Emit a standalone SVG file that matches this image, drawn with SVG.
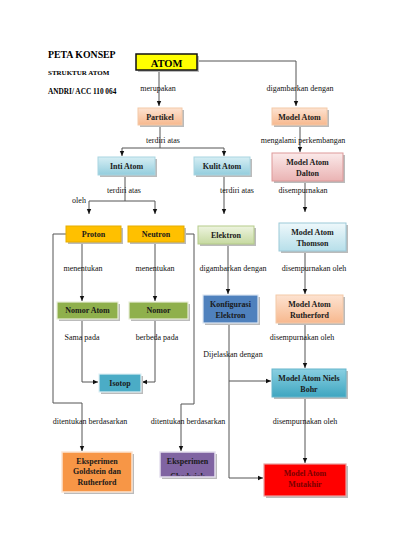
<svg xmlns="http://www.w3.org/2000/svg" width="400" height="550" viewBox="0 0 400 550">
<style>
.t{font-family:"Liberation Serif","Times New Roman",serif;font-weight:bold;font-size:8px;fill:#1a1a1a;text-anchor:middle}
.l{font-family:"Liberation Serif","Times New Roman",serif;font-size:8px;fill:#111;text-anchor:middle}
.h{font-family:"Liberation Serif","Times New Roman",serif;font-weight:bold;fill:#000}
.c{fill:none;stroke:#555;stroke-width:1}
.sh{fill:#bbb}
</style>
<defs>
<marker id="a" markerWidth="6" markerHeight="6" refX="5" refY="3" orient="auto" markerUnits="userSpaceOnUse">
<path d="M0,0.8 L5,3 L0,5.2 Z" fill="#111"/>
</marker>
<linearGradient id="peach" x1="0" y1="0" x2="0" y2="1"><stop offset="0" stop-color="#fde3d1"/><stop offset="1" stop-color="#f7b88e"/></linearGradient>
<linearGradient id="lblue" x1="0" y1="0" x2="0" y2="1"><stop offset="0" stop-color="#d6eef4"/><stop offset="1" stop-color="#93cddd"/></linearGradient>
<linearGradient id="pink" x1="0" y1="0" x2="0" y2="1"><stop offset="0" stop-color="#fbeaea"/><stop offset="1" stop-color="#eab3b3"/></linearGradient>
<linearGradient id="green" x1="0" y1="0" x2="0" y2="1"><stop offset="0" stop-color="#eef4e0"/><stop offset="1" stop-color="#c6d9a0"/></linearGradient>
<linearGradient id="pblue" x1="0" y1="0" x2="0" y2="1"><stop offset="0" stop-color="#eef8fb"/><stop offset="1" stop-color="#b7dfea"/></linearGradient>
<linearGradient id="teal" x1="0" y1="0" x2="0" y2="1"><stop offset="0" stop-color="#8ad0e2"/><stop offset="1" stop-color="#3fa6c0"/></linearGradient>
<clipPath id="chc"><rect x="160" y="452" width="55" height="23.5"/></clipPath>
</defs>

<g id="title">
<text class="h" x="48" y="58" font-size="9.8">PETA KONSEP</text>
<text class="h" x="48" y="75" font-size="7">STRUKTUR ATOM</text>
<text class="h" x="48" y="94" font-size="7.3">ANDRI/ ACC 110 064</text>
</g>

<g id="connectors">
<path class="c" d="M159,70 V106" marker-end="url(#a)"/>
<path class="c" d="M198,61 H296 V106" marker-end="url(#a)"/>
<path class="c" d="M160,125 V148"/>
<path class="c" d="M122,148 H224"/>
<path class="c" d="M122,148 V156" marker-end="url(#a)"/>
<path class="c" d="M224,148 V156" marker-end="url(#a)"/>
<path class="c" d="M300,125 V152" marker-end="url(#a)"/>
<path class="c" d="M125,175 V201"/>
<path class="c" d="M89,201 H155"/>
<path class="c" d="M89,201 V214" marker-end="url(#a)"/>
<path class="c" d="M155,201 V214" marker-end="url(#a)"/>
<path class="c" d="M224,175 V214" marker-end="url(#a)"/>
<path class="c" d="M305,181 V212" marker-end="url(#a)"/>
<path class="c" d="M66,234 H53 V403 H82 V451" marker-end="url(#a)"/>
<path class="c" d="M184,234 H194 V404 H181 V451" marker-end="url(#a)"/>
<path class="c" d="M82,242 V301" marker-end="url(#a)"/>
<path class="c" d="M155,242 V301" marker-end="url(#a)"/>
<path class="c" d="M82,319 V382 H98" marker-end="url(#a)"/>
<path class="c" d="M155,319 V382 H142" marker-end="url(#a)"/>
<path class="c" d="M228,244 V294" marker-end="url(#a)"/>
<path class="c" d="M229,323 V478 H263" marker-end="url(#a)"/>
<path class="c" d="M229,381 H271" marker-end="url(#a)"/>
<path class="c" d="M305,251 V294" marker-end="url(#a)"/>
<path class="c" d="M305,323 V368" marker-end="url(#a)"/>
<path class="c" d="M305,397 V463" marker-end="url(#a)"/>
</g>

<g id="labels">
<text class="l" x="158" y="91">merupakan</text>
<text class="l" x="300" y="91">digambarkan dengan</text>
<text class="l" x="163" y="143">terdiri atas</text>
<text class="l" x="303" y="143">mengalami perkembangan</text>
<text class="l" x="124" y="193">terdiri atas</text>
<text class="l" x="79" y="203">oleh</text>
<text class="l" x="237" y="193">terdiri atas</text>
<text class="l" x="303" y="193">disempurnakan</text>
<text class="l" x="83" y="271">menentukan</text>
<text class="l" x="155" y="271">menentukan</text>
<text class="l" x="233" y="271">digambarkan dengan</text>
<text class="l" x="314" y="271">disempurnakan oleh</text>
<text class="l" x="82" y="340">Sama pada</text>
<text class="l" x="157" y="340">berbeda pada</text>
<text class="l" x="302" y="340">disempurnakan oleh</text>
<text class="l" x="233" y="357">Dijelaskan dengan</text>
<text class="l" x="90" y="424">ditentukan berdasarkan</text>
<text class="l" x="188" y="424">ditentukan berdasarkan</text>
<text class="l" x="305" y="424">disempurnakan oleh</text>
</g>

<g id="atom">
<rect class="sh" x="138" y="56" width="61" height="16"/>
<rect x="136" y="54" width="61" height="16" fill="#ffff00" stroke="#111" stroke-width="1.5"/>
<text class="h" x="166.5" y="66.5" font-size="10.5" text-anchor="middle">ATOM</text>
</g>
<g id="partikel">
<rect class="sh" x="140" y="110" width="44" height="17"/>
<rect x="138" y="108" width="44" height="17" fill="url(#peach)" stroke="#f4c9a8"/>
<text class="t" x="160" y="119.5">Partikel</text>
</g>
<g id="model-atom">
<rect class="sh" x="274" y="110" width="55" height="17"/>
<rect x="272" y="108" width="55" height="17" fill="url(#peach)" stroke="#f4c9a8"/>
<text class="t" x="299.5" y="119.5">Model Atom</text>
</g>
<g id="inti-atom">
<rect class="sh" x="100" y="159" width="57" height="18"/>
<rect x="98" y="157" width="57" height="18" fill="url(#lblue)" stroke="#a9d5e1"/>
<text class="t" x="126.5" y="168.8">Inti Atom</text>
</g>
<g id="kulit-atom">
<rect class="sh" x="196" y="159" width="56" height="18"/>
<rect x="194" y="157" width="56" height="18" fill="url(#lblue)" stroke="#a9d5e1"/>
<text class="t" x="222" y="168.8">Kulit Atom</text>
</g>
<g id="dalton">
<rect class="sh" x="274" y="155" width="71" height="28"/>
<rect x="272" y="153" width="71" height="28" fill="url(#pink)" stroke="#d99"/>
<text class="t" x="307.5" y="164.5">Model Atom</text>
<text class="t" x="307.5" y="176">Dalton</text>
</g>
<g id="proton">
<rect class="sh" x="68" y="228" width="55" height="16"/>
<rect x="66" y="226" width="55" height="16" fill="#ffc000" stroke="#e6ad00"/>
<text class="t" x="93.5" y="236.8">Proton</text>
</g>
<g id="neutron">
<rect class="sh" x="130" y="228" width="56" height="16"/>
<rect x="128" y="226" width="56" height="16" fill="#ffc000" stroke="#e6ad00"/>
<text class="t" x="156" y="236.8">Neutron</text>
</g>
<g id="elektron">
<rect class="sh" x="200" y="228" width="56" height="18"/>
<rect x="198" y="226" width="56" height="18" fill="url(#green)" stroke="#b5cc8a"/>
<text class="t" x="226" y="237.8">Elektron</text>
</g>
<g id="thomson">
<rect class="sh" x="281" y="225" width="67" height="28"/>
<rect x="279" y="223" width="67" height="28" fill="url(#pblue)" stroke="#9cc9d8"/>
<text class="t" x="312.5" y="234.5">Model Atom</text>
<text class="t" x="312.5" y="246">Thomson</text>
</g>
<g id="nomor-atom">
<rect class="sh" x="59" y="304" width="61" height="17"/>
<rect x="57" y="302" width="61" height="17" fill="#8fb04c" stroke="#e8efd8" stroke-width="1.2"/>
<text class="t" x="87.5" y="313.3">Nomor Atom</text>
</g>
<g id="nomor">
<rect class="sh" x="131" y="304" width="59" height="17"/>
<rect x="129" y="302" width="59" height="17" fill="#8fb04c" stroke="#e8efd8" stroke-width="1.2"/>
<text class="t" x="158.5" y="313.3">Nomor</text>
</g>
<g id="konfigurasi">
<rect class="sh" x="205" y="297" width="55" height="28"/>
<rect x="203" y="295" width="55" height="28" fill="#4f81bd" stroke="#dde6f2" stroke-width="1.2"/>
<text class="t" x="230.5" y="306.5">Konfigurasi</text>
<text class="t" x="230.5" y="318">Elektron</text>
</g>
<g id="rutherford">
<rect class="sh" x="278" y="297" width="67" height="28"/>
<rect x="276" y="295" width="67" height="28" fill="url(#peach)" stroke="#f4c9a8"/>
<text class="t" x="309.5" y="306.5">Model Atom</text>
<text class="t" x="309.5" y="318">Rutherford</text>
</g>
<g id="isotop">
<rect class="sh" x="101" y="376" width="42" height="18"/>
<rect x="99" y="374" width="42" height="18" fill="#4bacc6" stroke="#dff0f5" stroke-width="1.2"/>
<text class="t" x="120" y="385.8">Isotop</text>
</g>
<g id="niels-bohr">
<rect class="sh" x="274" y="371" width="74" height="28"/>
<rect x="272" y="369" width="74" height="28" fill="url(#teal)" stroke="#66b6cc"/>
<text class="t" x="309" y="380.5">Model Atom Niels</text>
<text class="t" x="309" y="392">Bohr</text>
</g>
<g id="goldstein">
<rect class="sh" x="64" y="454" width="70" height="40"/>
<rect x="62" y="452" width="70" height="40" fill="#f79646" stroke="#fde5d2" stroke-width="1.5"/>
<text class="t" x="97" y="463.5">Eksperimen</text>
<text class="t" x="97" y="474">Goldstein dan</text>
<text class="t" x="97" y="484.5">Rutherford</text>
</g>
<g id="chadwick">
<rect class="sh" x="162" y="454" width="55" height="25"/>
<rect x="160" y="452" width="55" height="25" fill="#8064a2" stroke="#e5dfee" stroke-width="1.5"/>
<g clip-path="url(#chc)">
<text class="t" x="187.5" y="464">Eksperimen</text>
<text class="t" x="187.5" y="478.5">Chadwick</text>
</g>
</g>
<g id="mutakhir">
<rect class="sh" x="266" y="466" width="82" height="32"/>
<rect x="264" y="464" width="82" height="32" fill="#ff0000" stroke="#e8a0a0" stroke-width="1.2"/>
<text class="t" x="305" y="475.5" style="fill:#7a0000">Model Atom</text>
<text class="t" x="305" y="487" style="fill:#7a0000">Mutakhir</text>
</g>
</svg>
